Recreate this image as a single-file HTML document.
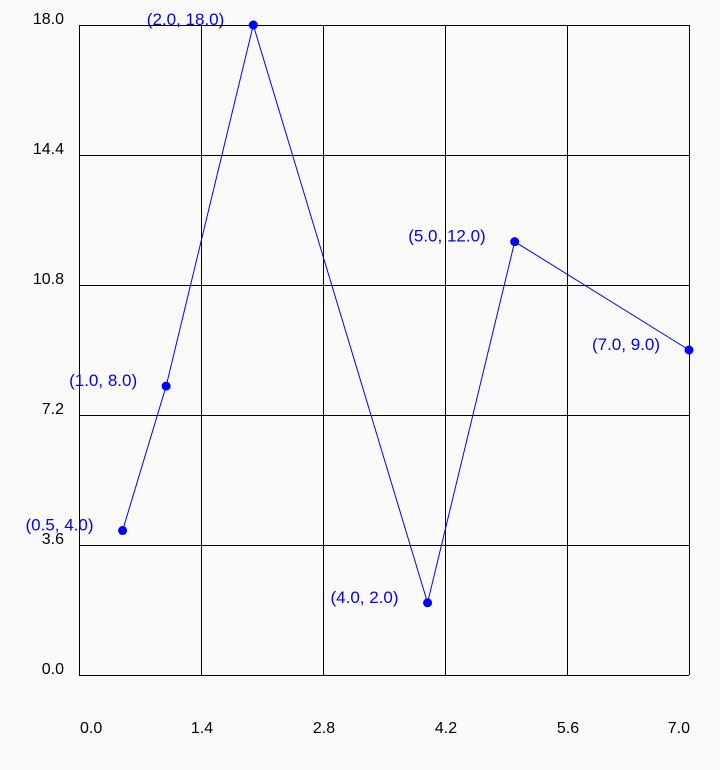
<!DOCTYPE html>
<html><head><meta charset="utf-8"><style>
body{margin:0;background:#fafafa;}
svg{display:block;font-family:"Liberation Sans",sans-serif;}
</style></head><body>
<svg width="720" height="770" xmlns="http://www.w3.org/2000/svg">
<rect width="720" height="770" fill="#fafafa"/>
<g id="grid"></g><g id="ticks"></g><g id="series"></g>
</svg>
<script>
const xs=[0.5,1.0,2.0,4.0,5.0,7.0];
const ys=[4.0,8.0,18.0,2.0,12.0,9.0];
const pointLabels=["(0.5, 4.0)","(1.0, 8.0)","(2.0, 18.0)","(4.0, 2.0)","(5.0, 12.0)","(7.0, 9.0)"];
const xTicks=[0.0,1.4,2.8,4.2,5.6,7.0];
const yTicks=[0.0,3.6,7.2,10.8,14.4,18.0];
const xTickLabels=["0.0","1.4","2.8","4.2","5.6","7.0"];
const yTickLabels=["0.0","3.6","7.2","10.8","14.4","18.0"];
const X0=79,X1=689,Y0=675,Y1=25,xmax=7,ymax=18;
const sx=v=>X0+(X1-X0)*v/xmax, sy=v=>Y0-(Y0-Y1)*v/ymax;
const NS="http://www.w3.org/2000/svg";
function mk(t,a,p){const e=document.createElementNS(NS,t);for(const k in a)e.setAttribute(k,a[k]);p.appendChild(e);return e;}
const g=document.getElementById('grid'),tk=document.getElementById('ticks'),s=document.getElementById('series');
xTicks.forEach((v,i)=>{
 const px=Math.round(sx(v))+0.5;
 const l=mk('line',{x1:px,x2:px,y1:Y1,y2:Y0,stroke:'#000','stroke-width':1},g);
 
 
 const anchor=i===0?'start':(i===xTicks.length-1?'end':'middle');
 const t=mk('text',{x:sx(v)+1,y:733,'font-size':16,'text-anchor':anchor,fill:'#000'},tk);
 t.textContent=xTickLabels[i];
 
 
});
yTicks.forEach((v,i)=>{
 const py=Math.round(sy(v))+0.5;
 const l=mk('line',{x1:X0,x2:X1,y1:py,y2:py,stroke:'#000','stroke-width':1},g);
 
 
 const t=mk('text',{x:64,y:sy(v)-1,'font-size':16,'text-anchor':'end',fill:'#000'},tk);
 t.textContent=yTickLabels[i];
 
 
});
const pl=mk('polyline',{points:xs.map((x,i)=>sx(x)+','+sy(ys[i])).join(' '),fill:'none',stroke:'#0000ff','stroke-width':1},s);


xs.forEach((x,i)=>{
 const c=mk('circle',{cx:sx(x),cy:sy(ys[i]),r:4.5,fill:'#0000ff'},s);
 
 
 const t=mk('text',{x:sx(x)-29,y:sy(ys[i]),'font-size':17,'text-anchor':'end',fill:'#0000ff'},s);
 t.textContent=pointLabels[i];
 
 
});
</script>
</body></html>
